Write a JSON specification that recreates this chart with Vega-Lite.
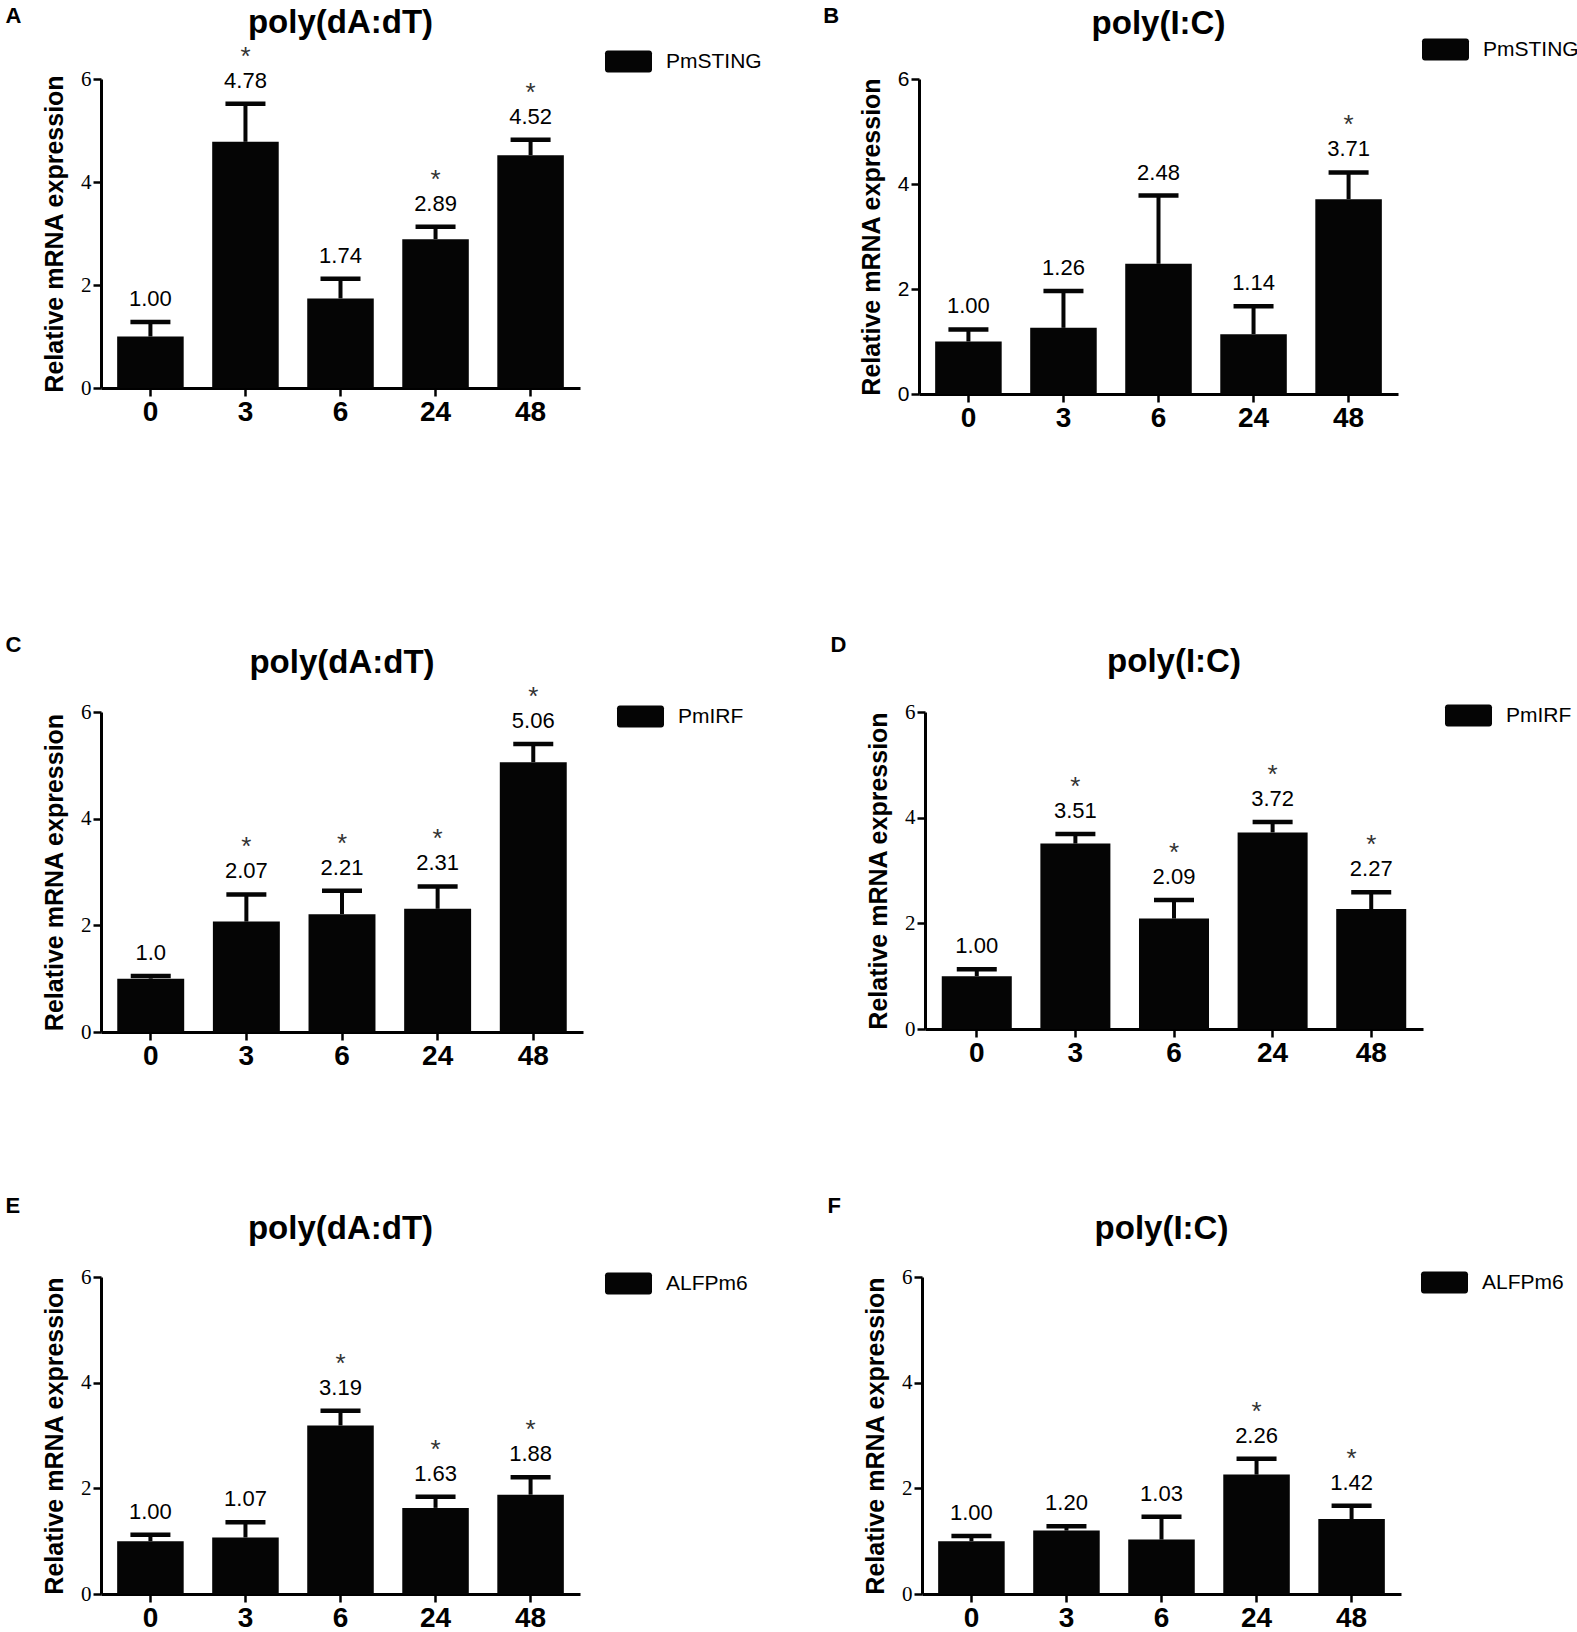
{
  "$schema": "https://vega.github.io/schema/vega-lite/v6.json",
  "padding": {"left": 5, "top": 4, "right": 0, "bottom": 0},
  "background": "white",
  "datasets": {
    "expr": [
      {"p": "A", "gene": "PmSTING", "t": "0", "m": 1.00, "top": 1.28, "lab": "1.00", "sig": ""},
      {"p": "A", "gene": "PmSTING", "t": "3", "m": 4.78, "top": 5.52, "lab": "4.78", "sig": "*"},
      {"p": "A", "gene": "PmSTING", "t": "6", "m": 1.74, "top": 2.12, "lab": "1.74", "sig": ""},
      {"p": "A", "gene": "PmSTING", "t": "24", "m": 2.89, "top": 3.13, "lab": "2.89", "sig": "*"},
      {"p": "A", "gene": "PmSTING", "t": "48", "m": 4.52, "top": 4.82, "lab": "4.52", "sig": "*"},
      {"p": "B", "gene": "PmSTING", "t": "0", "m": 1.00, "top": 1.23, "lab": "1.00", "sig": ""},
      {"p": "B", "gene": "PmSTING", "t": "3", "m": 1.26, "top": 1.96, "lab": "1.26", "sig": ""},
      {"p": "B", "gene": "PmSTING", "t": "6", "m": 2.48, "top": 3.78, "lab": "2.48", "sig": ""},
      {"p": "B", "gene": "PmSTING", "t": "24", "m": 1.14, "top": 1.67, "lab": "1.14", "sig": ""},
      {"p": "B", "gene": "PmSTING", "t": "48", "m": 3.71, "top": 4.22, "lab": "3.71", "sig": "*"},
      {"p": "C", "gene": "PmIRF", "t": "0", "m": 1.00, "top": 1.05, "lab": "1.0", "sig": ""},
      {"p": "C", "gene": "PmIRF", "t": "3", "m": 2.07, "top": 2.58, "lab": "2.07", "sig": "*"},
      {"p": "C", "gene": "PmIRF", "t": "6", "m": 2.21, "top": 2.65, "lab": "2.21", "sig": "*"},
      {"p": "C", "gene": "PmIRF", "t": "24", "m": 2.31, "top": 2.73, "lab": "2.31", "sig": "*"},
      {"p": "C", "gene": "PmIRF", "t": "48", "m": 5.06, "top": 5.40, "lab": "5.06", "sig": "*"},
      {"p": "D", "gene": "PmIRF", "t": "0", "m": 1.00, "top": 1.13, "lab": "1.00", "sig": ""},
      {"p": "D", "gene": "PmIRF", "t": "3", "m": 3.51, "top": 3.69, "lab": "3.51", "sig": "*"},
      {"p": "D", "gene": "PmIRF", "t": "6", "m": 2.09, "top": 2.44, "lab": "2.09", "sig": "*"},
      {"p": "D", "gene": "PmIRF", "t": "24", "m": 3.72, "top": 3.92, "lab": "3.72", "sig": "*"},
      {"p": "D", "gene": "PmIRF", "t": "48", "m": 2.27, "top": 2.59, "lab": "2.27", "sig": "*"},
      {"p": "E", "gene": "ALFPm6", "t": "0", "m": 1.00, "top": 1.12, "lab": "1.00", "sig": ""},
      {"p": "E", "gene": "ALFPm6", "t": "3", "m": 1.07, "top": 1.36, "lab": "1.07", "sig": ""},
      {"p": "E", "gene": "ALFPm6", "t": "6", "m": 3.19, "top": 3.47, "lab": "3.19", "sig": "*"},
      {"p": "E", "gene": "ALFPm6", "t": "24", "m": 1.63, "top": 1.84, "lab": "1.63", "sig": "*"},
      {"p": "E", "gene": "ALFPm6", "t": "48", "m": 1.88, "top": 2.21, "lab": "1.88", "sig": "*"},
      {"p": "F", "gene": "ALFPm6", "t": "0", "m": 1.00, "top": 1.10, "lab": "1.00", "sig": ""},
      {"p": "F", "gene": "ALFPm6", "t": "3", "m": 1.20, "top": 1.28, "lab": "1.20", "sig": ""},
      {"p": "F", "gene": "ALFPm6", "t": "6", "m": 1.03, "top": 1.46, "lab": "1.03", "sig": ""},
      {"p": "F", "gene": "ALFPm6", "t": "24", "m": 2.26, "top": 2.56, "lab": "2.26", "sig": "*"},
      {"p": "F", "gene": "ALFPm6", "t": "48", "m": 1.42, "top": 1.67, "lab": "1.42", "sig": "*"}
    ]
  },
  "config": {
    "view": {"stroke": null},
    "font": "Liberation Sans",
    "title": {"font": "Liberation Sans", "fontSize": 33, "fontWeight": "bold", "color": "black", "anchor": "middle", "frame": "group", "baseline": "bottom"},
    "axis": {"domainColor": "black", "domainWidth": 3, "tickColor": "black", "tickWidth": 2.5, "tickSize": 8, "grid": false, "labelColor": "black", "titleColor": "black"},
    "axisY": {"labelFont": "Liberation Serif", "labelFontSize": 21, "labelPadding": 2, "titleFont": "Liberation Sans", "titleFontSize": 25, "titleFontWeight": "bold", "titlePadding": 13},
    "axisX": {"labelFont": "Liberation Sans", "labelFontSize": 28, "labelFontWeight": "bold", "labelAngle": 0, "labelPadding": 2},
    "legend": {"orient": "none", "title": null, "symbolType": "M-0.88,-0.47H0.88A0.12,0.12 0 0 1 1,-0.35V0.35A0.12,0.12 0 0 1 0.88,0.47H-0.88A0.12,0.12 0 0 1 -1,0.35V-0.35A0.12,0.12 0 0 1 -0.88,-0.47Z", "symbolSize": 2209, "symbolStrokeWidth": 0, "symbolOpacity": 1, "labelFont": "Liberation Sans", "labelFontSize": 21, "labelColor": "black", "labelOffset": 14, "padding": 0},
    "text": {"font": "Liberation Sans", "fontSize": 22, "color": "black", "baseline": "middle"},
    "bar": {"color": "#050505"}
  },
  "spacing": 202,
  "resolve": {"scale": {"color": "independent"}, "legend": {"color": "independent"}},
  "vconcat": [
    {
      "spacing": 61,
      "resolve": {"scale": {"color": "independent"}, "legend": {"color": "independent"}},
      "hconcat": [
        {
          "title": {"text": "A", "anchor": "start", "frame": "bounds", "fontSize": 22, "offset": -21, "dx": -37},
          "hconcat": [
            {
              "width": 479, "height": 309,
              "title": {"text": "poly(dA:dT)", "offset": 4},
              "data": {"name": "expr"},
              "transform": [{"filter": "datum.p === 'A'"}],
              "encoding": {"x": {"field": "t", "type": "ordinal", "sort": ["0", "3", "6", "24", "48"], "title": null, "scale": {"paddingInner": 0.3, "paddingOuter": 0.17}}},
              "layer": [
                {"mark": "bar", "encoding": {"y": {"field": "m", "type": "quantitative", "title": "Relative mRNA expression", "scale": {"domain": [0, 6], "nice": false}, "axis": {"values": [0, 2, 4, 6]}}, "color": {"field": "gene", "type": "nominal", "scale": {"range": ["#050505"]}, "legend": {"legendX": 504, "legendY": -41}}}},
                {"mark": {"type": "rule", "strokeWidth": 4, "color": "#050505"}, "encoding": {"y": {"field": "m", "type": "quantitative", "title": "Relative mRNA expression"}, "y2": {"field": "top"}}},
                {"mark": {"type": "tick", "thickness": 4.5, "size": 40, "color": "#050505", "opacity": 1}, "encoding": {"y": {"field": "top", "type": "quantitative", "title": "Relative mRNA expression"}}},
                {"mark": {"type": "text", "dy": -23}, "encoding": {"y": {"field": "top", "type": "quantitative", "title": "Relative mRNA expression"}, "text": {"field": "lab"}}},
                {"transform": [{"filter": "datum.sig !== ''"}], "mark": {"type": "text", "dy": -47, "fontSize": 26, "color": "#333"}, "encoding": {"y": {"field": "top", "type": "quantitative", "title": "Relative mRNA expression"}, "text": {"field": "sig"}}}
              ]
            }
          ]
        },
        {
          "title": {"text": "B", "anchor": "start", "frame": "bounds", "fontSize": 22, "offset": -20, "dx": -36},
          "hconcat": [
            {
              "width": 479, "height": 315,
              "title": {"text": "poly(I:C)", "offset": 27},
              "data": {"name": "expr"},
              "transform": [{"filter": "datum.p === 'B'"}],
              "encoding": {"x": {"field": "t", "type": "ordinal", "sort": ["0", "3", "6", "24", "48"], "title": null, "scale": {"paddingInner": 0.3, "paddingOuter": 0.17}}},
              "layer": [
                {"mark": "bar", "encoding": {"y": {"field": "m", "type": "quantitative", "title": "Relative mRNA expression", "scale": {"domain": [0, 6], "nice": false}, "axis": {"values": [0, 2, 4, 6], "labelFont": "Liberation Sans"}}, "color": {"field": "gene", "type": "nominal", "scale": {"range": ["#050505"]}, "legend": {"legendX": 503, "legendY": -53}}}},
                {"mark": {"type": "rule", "strokeWidth": 4, "color": "#050505"}, "encoding": {"y": {"field": "m", "type": "quantitative", "title": "Relative mRNA expression"}, "y2": {"field": "top"}}},
                {"mark": {"type": "tick", "thickness": 4.5, "size": 40, "color": "#050505", "opacity": 1}, "encoding": {"y": {"field": "top", "type": "quantitative", "title": "Relative mRNA expression"}}},
                {"mark": {"type": "text", "dy": -23}, "encoding": {"y": {"field": "top", "type": "quantitative", "title": "Relative mRNA expression"}, "text": {"field": "lab"}}},
                {"transform": [{"filter": "datum.sig !== ''"}], "mark": {"type": "text", "dy": -47, "fontSize": 26, "color": "#333"}, "encoding": {"y": {"field": "top", "type": "quantitative", "title": "Relative mRNA expression"}, "text": {"field": "sig"}}}
              ]
            }
          ]
        }
      ]
    },
    {
      "spacing": 125,
      "resolve": {"scale": {"color": "independent"}, "legend": {"color": "independent"}},
      "vconcat": [
        {
          "spacing": 86,
          "resolve": {"scale": {"color": "independent"}, "legend": {"color": "independent"}},
          "hconcat": [
            {
              "title": {"text": "C", "anchor": "start", "frame": "bounds", "fontSize": 22, "offset": -10, "dx": -37},
              "hconcat": [
                {
                  "width": 482, "height": 320,
                  "title": {"text": "poly(dA:dT)", "offset": 4},
                  "data": {"name": "expr"},
                  "transform": [{"filter": "datum.p === 'C'"}],
                  "encoding": {"x": {"field": "t", "type": "ordinal", "sort": ["0", "3", "6", "24", "48"], "title": null, "scale": {"paddingInner": 0.3, "paddingOuter": 0.17}}},
                  "layer": [
                    {"mark": "bar", "encoding": {"y": {"field": "m", "type": "quantitative", "title": "Relative mRNA expression", "scale": {"domain": [0, 6], "nice": false}, "axis": {"values": [0, 2, 4, 6]}}, "color": {"field": "gene", "type": "nominal", "scale": {"range": ["#050505"]}, "legend": {"legendX": 516, "legendY": -19}}}},
                    {"mark": {"type": "rule", "strokeWidth": 4, "color": "#050505"}, "encoding": {"y": {"field": "m", "type": "quantitative", "title": "Relative mRNA expression"}, "y2": {"field": "top"}}},
                    {"mark": {"type": "tick", "thickness": 4.5, "size": 40, "color": "#050505", "opacity": 1}, "encoding": {"y": {"field": "top", "type": "quantitative", "title": "Relative mRNA expression"}}},
                    {"mark": {"type": "text", "dy": -23}, "encoding": {"y": {"field": "top", "type": "quantitative", "title": "Relative mRNA expression"}, "text": {"field": "lab"}}},
                    {"transform": [{"filter": "datum.sig !== ''"}], "mark": {"type": "text", "dy": -47, "fontSize": 26, "color": "#333"}, "encoding": {"y": {"field": "top", "type": "quantitative", "title": "Relative mRNA expression"}, "text": {"field": "sig"}}}
                  ]
                }
              ]
            },
            {
              "title": {"text": "D", "anchor": "start", "frame": "bounds", "fontSize": 22, "offset": -11, "dx": -36},
              "hconcat": [
                {
                  "width": 498, "height": 317,
                  "title": {"text": "poly(I:C)", "offset": 22},
                  "data": {"name": "expr"},
                  "transform": [{"filter": "datum.p === 'D'"}],
                  "encoding": {"x": {"field": "t", "type": "ordinal", "sort": ["0", "3", "6", "24", "48"], "title": null, "scale": {"paddingInner": 0.29, "paddingOuter": 0.17}}},
                  "layer": [
                    {"mark": "bar", "encoding": {"y": {"field": "m", "type": "quantitative", "title": "Relative mRNA expression", "scale": {"domain": [0, 6], "nice": false}, "axis": {"values": [0, 2, 4, 6]}}, "color": {"field": "gene", "type": "nominal", "scale": {"range": ["#050505"]}, "legend": {"legendX": 520, "legendY": -20}}}},
                    {"mark": {"type": "rule", "strokeWidth": 4, "color": "#050505"}, "encoding": {"y": {"field": "m", "type": "quantitative", "title": "Relative mRNA expression"}, "y2": {"field": "top"}}},
                    {"mark": {"type": "tick", "thickness": 4.5, "size": 40, "color": "#050505", "opacity": 1}, "encoding": {"y": {"field": "top", "type": "quantitative", "title": "Relative mRNA expression"}}},
                    {"mark": {"type": "text", "dy": -23}, "encoding": {"y": {"field": "top", "type": "quantitative", "title": "Relative mRNA expression"}, "text": {"field": "lab"}}},
                    {"transform": [{"filter": "datum.sig !== ''"}], "mark": {"type": "text", "dy": -47, "fontSize": 26, "color": "#333"}, "encoding": {"y": {"field": "top", "type": "quantitative", "title": "Relative mRNA expression"}, "text": {"field": "sig"}}}
                  ]
                }
              ]
            }
          ]
        },
        {
          "spacing": 79,
          "resolve": {"scale": {"color": "independent"}, "legend": {"color": "independent"}},
          "hconcat": [
            {
              "title": {"text": "E", "anchor": "start", "frame": "bounds", "fontSize": 22, "offset": -5, "dx": -37},
              "hconcat": [
                {
                  "width": 479, "height": 317,
                  "title": {"text": "poly(dA:dT)", "offset": 20},
                  "data": {"name": "expr"},
                  "transform": [{"filter": "datum.p === 'E'"}],
                  "encoding": {"x": {"field": "t", "type": "ordinal", "sort": ["0", "3", "6", "24", "48"], "title": null, "scale": {"paddingInner": 0.3, "paddingOuter": 0.17}}},
                  "layer": [
                    {"mark": "bar", "encoding": {"y": {"field": "m", "type": "quantitative", "title": "Relative mRNA expression", "scale": {"domain": [0, 6], "nice": false}, "axis": {"values": [0, 2, 4, 6]}}, "color": {"field": "gene", "type": "nominal", "scale": {"range": ["#050505"]}, "legend": {"legendX": 504, "legendY": -17}}}},
                    {"mark": {"type": "rule", "strokeWidth": 4, "color": "#050505"}, "encoding": {"y": {"field": "m", "type": "quantitative", "title": "Relative mRNA expression"}, "y2": {"field": "top"}}},
                    {"mark": {"type": "tick", "thickness": 4.5, "size": 40, "color": "#050505", "opacity": 1}, "encoding": {"y": {"field": "top", "type": "quantitative", "title": "Relative mRNA expression"}}},
                    {"mark": {"type": "text", "dy": -23}, "encoding": {"y": {"field": "top", "type": "quantitative", "title": "Relative mRNA expression"}, "text": {"field": "lab"}}},
                    {"transform": [{"filter": "datum.sig !== ''"}], "mark": {"type": "text", "dy": -47, "fontSize": 26, "color": "#333"}, "encoding": {"y": {"field": "top", "type": "quantitative", "title": "Relative mRNA expression"}, "text": {"field": "sig"}}}
                  ]
                }
              ]
            },
            {
              "title": {"text": "F", "anchor": "start", "frame": "bounds", "fontSize": 22, "offset": -5, "dx": -36},
              "hconcat": [
                {
                  "width": 479, "height": 317,
                  "title": {"text": "poly(I:C)", "offset": 20},
                  "data": {"name": "expr"},
                  "transform": [{"filter": "datum.p === 'F'"}],
                  "encoding": {"x": {"field": "t", "type": "ordinal", "sort": ["0", "3", "6", "24", "48"], "title": null, "scale": {"paddingInner": 0.3, "paddingOuter": 0.17}}},
                  "layer": [
                    {"mark": "bar", "encoding": {"y": {"field": "m", "type": "quantitative", "title": "Relative mRNA expression", "scale": {"domain": [0, 6], "nice": false}, "axis": {"values": [0, 2, 4, 6]}}, "color": {"field": "gene", "type": "nominal", "scale": {"range": ["#050505"]}, "legend": {"legendX": 499, "legendY": -18}}}},
                    {"mark": {"type": "rule", "strokeWidth": 4, "color": "#050505"}, "encoding": {"y": {"field": "m", "type": "quantitative", "title": "Relative mRNA expression"}, "y2": {"field": "top"}}},
                    {"mark": {"type": "tick", "thickness": 4.5, "size": 40, "color": "#050505", "opacity": 1}, "encoding": {"y": {"field": "top", "type": "quantitative", "title": "Relative mRNA expression"}}},
                    {"mark": {"type": "text", "dy": -23}, "encoding": {"y": {"field": "top", "type": "quantitative", "title": "Relative mRNA expression"}, "text": {"field": "lab"}}},
                    {"transform": [{"filter": "datum.sig !== ''"}], "mark": {"type": "text", "dy": -47, "fontSize": 26, "color": "#333"}, "encoding": {"y": {"field": "top", "type": "quantitative", "title": "Relative mRNA expression"}, "text": {"field": "sig"}}}
                  ]
                }
              ]
            }
          ]
        }
      ]
    }
  ]
}
